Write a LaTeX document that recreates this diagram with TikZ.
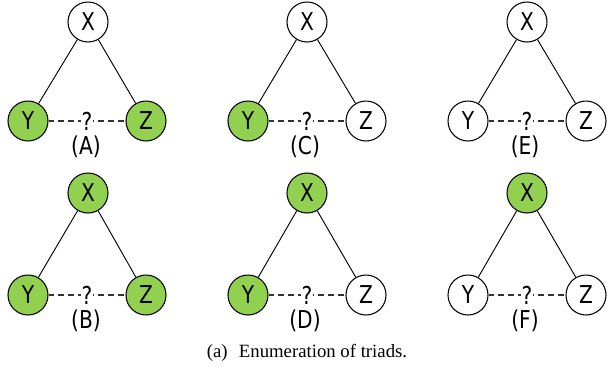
\documentclass[tikz,border=0pt]{standalone}
\usepackage{fontspec}
\setmainfont{Liberation Serif}
\newfontfamily\nodefont[FakeStretch=0.82]{DejaVu Sans}
\usetikzlibrary{calc}
\usepackage{xcolor}
\definecolor{leafgreen}{HTML}{92D050}

\tikzset{
  vert/.style={circle, draw, line width=.9pt, minimum size=1.2cm, inner sep=0pt, font=\nodefont\fontsize{21}{21}\selectfont},
  on/.style={vert, fill=leafgreen},
  off/.style={vert, fill=white},
  tie/.style={line width=.8pt},
  maybe/.style={gray!40!black, line width=.9pt, dash pattern=on 5pt off 3.5pt},
  qmark/.style={fill=white, inner sep=.5pt, font=\nodefont\fontsize{21}{21}\selectfont},
  tag/.style={font=\nodefont\fontsize{21}{21}\selectfont}
}

\begin{document}
\begin{tikzpicture}[x=0.03cm, y=-0.03cm]
\useasboundingbox (0,0) rectangle (613,378);

\node[off] (XA) at (88,22) {X};
\node[on] (YA) at (28,121) {Y};
\node[on] (ZA) at (146,121) {Z};
\draw[tie] (XA)--(YA);
\draw[tie] (XA)--(ZA);
\draw[maybe] (YA)--(ZA);
\node[qmark] (QA) at ($ (YA)!.5!(ZA) $) {?};
\node[tag] (TA) at (86,147) {(A)};

\node[off] (XC) at (307,22) {X};
\node[on] (YC) at (248,121) {Y};
\node[off] (ZC) at (366,121) {Z};
\draw[tie] (XC)--(YC);
\draw[tie] (XC)--(ZC);
\draw[maybe] (YC)--(ZC);
\node[qmark] (QC) at ($ (YC)!.5!(ZC) $) {?};
\node[tag] (TC) at (305,147) {(C)};

\node[off] (XE) at (527,22) {X};
\node[off] (YE) at (468,121) {Y};
\node[off] (ZE) at (586,121) {Z};
\draw[tie] (XE)--(YE);
\draw[tie] (XE)--(ZE);
\draw[maybe] (YE)--(ZE);
\node[qmark] (QE) at ($ (YE)!.5!(ZE) $) {?};
\node[tag] (TE) at (525,147) {(E)};

\node[on] (XB) at (88,193) {X};
\node[on] (YB) at (28,295) {Y};
\node[on] (ZB) at (146,295) {Z};
\draw[tie] (XB)--(YB);
\draw[tie] (XB)--(ZB);
\draw[maybe] (YB)--(ZB);
\node[qmark] (QB) at ($ (YB)!.5!(ZB) $) {?};
\node[tag] (TB) at (86,321) {(B)};

\node[on] (XD) at (307,193) {X};
\node[on] (YD) at (248,295) {Y};
\node[off] (ZD) at (366,295) {Z};
\draw[tie] (XD)--(YD);
\draw[tie] (XD)--(ZD);
\draw[maybe] (YD)--(ZD);
\node[qmark] (QD) at ($ (YD)!.5!(ZD) $) {?};
\node[tag] (TD) at (305,321) {(D)};

\node[on] (XF) at (527,193) {X};
\node[off] (YF) at (468,295) {Y};
\node[off] (ZF) at (586,295) {Z};
\draw[tie] (XF)--(YF);
\draw[tie] (XF)--(ZF);
\draw[maybe] (YF)--(ZF);
\node[qmark] (QF) at ($ (YF)!.5!(ZF) $) {?};
\node[tag] (TF) at (525,321) {(F)};

\node[font=\fontsize{16}{18}\selectfont] (cap) at (307,353) {(a)\hspace{.6em}Enumeration of triads.};
\end{tikzpicture}
\end{document}
